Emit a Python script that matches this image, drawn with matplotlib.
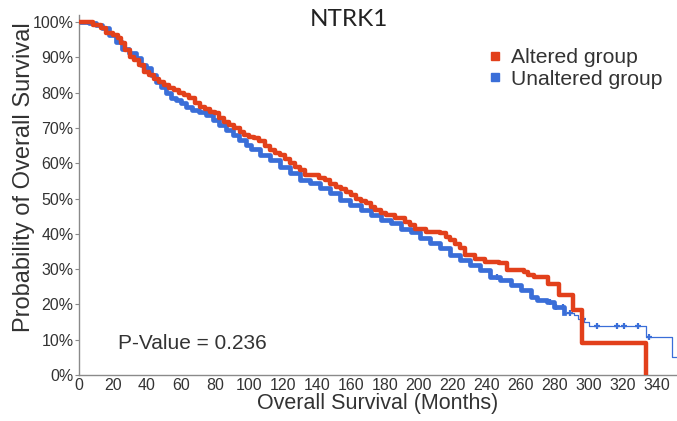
import numpy as np
import matplotlib
matplotlib.use("Agg")
import matplotlib.pyplot as plt
from matplotlib.lines import Line2D

# Kaplan-Meier breakpoints (months, survival %)
altered_t = [0, 8, 13, 16, 20, 23, 25, 27, 30, 32.5, 35.5, 38.5, 41, 44, 47, 50, 53,
             56, 59, 62, 65, 68, 71, 74, 77, 80, 82.5, 85.5, 88.5, 91.5, 94.5, 97,
             100, 103, 106, 109.5, 112.6, 115.5, 118.5, 121.5, 124.3, 127, 130.2,
             133.2, 141, 145, 148, 151, 154, 157, 160, 163, 166, 169, 172, 174.5,
             177.5, 180.5, 186, 192, 195, 198, 204, 212.7, 216, 218.6, 221.5, 224.5,
             227.4, 233.3, 239.2, 247, 252, 262, 264, 268, 276, 282.3, 290.6, 296.2,
             334]
altered_s = [100, 99.2, 98.2, 96.8, 96.4, 95.4, 94, 92, 90.2, 89.2, 87.8, 85.9, 85,
             84, 83.1, 82.2, 81.2, 80.7, 79.8, 79.3, 78.4, 77, 76, 75.5, 74.6, 74.1,
             72.7, 71.8, 70.8, 69.9, 68.9, 68, 67.5, 67.1, 66.3, 65, 63.7, 63, 62.3,
             61.2, 60, 59, 58.1, 56.7, 55.9, 55.2, 54.2, 53.3, 52.6, 51.9, 51, 50,
             49.3, 48.6, 47.6, 46.7, 46, 45.3, 44.4, 43.4, 42.5, 41.5, 40.6, 40.1,
             39.2, 38.2, 37, 35.9, 34, 33, 32.1, 31.6, 29.7, 29.3, 28.3, 27.8, 25.8,
             22.7, 18.4, 9.0, 0]

unaltered_t = [0, 6, 10, 13.7, 17.7, 21.6, 25.5, 29.5, 33.4, 36.3, 39.3, 42.2, 45.2,
               48.1, 51, 54, 57, 60, 62.8, 66.8, 70.7, 74.6, 78.6, 82.5, 86.4, 90.4,
               94.3, 98.2, 101.5, 106.7, 112.6, 118.5, 124.3, 130.2, 136, 142, 148,
               153.9, 159.8, 165.7, 171.6, 177.5, 183.4, 189.3, 195.2, 201, 206.9,
               212.7, 218.6, 224.5, 230.4, 236.3, 242.2, 248.1, 254, 259.9, 265.8,
               269.7, 275.6, 279.5, 285.4, 291.3, 294, 297.2, 300, 334, 349, 352]
unaltered_s = [100, 99.6, 99.2, 98.2, 96.3, 94.4, 92.5, 91.1, 89.7, 87.8, 86.9, 85,
               83.1, 81.7, 79.8, 78.4, 77.9, 77, 76, 75.1, 74.6, 73.7, 72.2, 70.8,
               69.4, 68, 66.6, 65.2, 63.9, 62.3, 60.9, 59, 57.1, 55.2, 54.3, 52.9,
               51.5, 49.6, 48.2, 46.7, 45.3, 43.9, 43, 41.5, 40.6, 38.7, 37.3, 35.9,
               34, 32.6, 31.2, 29.7, 27.8, 26.9, 25.5, 24.1, 22.2, 21.2, 20.8, 19.3,
               17.5, 17, 16, 15.1, 13.9, 10.7, 5.2, 5.2]

# Sparse censoring times on the unaltered tail
unaltered_censor = [246, 277, 281, 285, 289, 296.5, 305, 316.5, 321, 329, 335.5]

x_ticks = list(range(0, 341, 20))
y_ticks = list(range(0, 101, 10))

title = "NTRK1"
p_value_text = "P-Value = 0.236"
legend_labels = ["Altered group", "Unaltered group"]

RED = "#E2401B"
BLUE = "#3A6ED8"

plt.rcParams["font.family"] = ["Liberation Sans", "DejaVu Sans"]

fig = plt.figure(figsize=(6.77, 4.21), dpi=100)
ax = fig.add_axes([79 / 677, 46 / 421, 1 - 79 / 677, (375 - 15) / 421])

ut = np.array(unaltered_t)
us = np.array(unaltered_s)

# blue: thin line for the whole curve, thick where censor marks pile up
ax.step(ut, us, where="post", color=BLUE, lw=0.9, zorder=2)
dense = ut <= 286
ax.step(ut[dense], us[dense], where="post", color=BLUE, lw=3.4, zorder=2)
idx = np.searchsorted(ut, unaltered_censor, side="right") - 1
ax.plot(unaltered_censor, us[idx], ls="none", marker="+", ms=5, mew=1.6,
        color=BLUE, zorder=3)

# red: altered group
ax.step(altered_t, altered_s, where="post", color=RED, lw=3.2, zorder=4)

ax.set_xlim(0, 352)
ax.set_ylim(0, 102)
ax.set_xticks(x_ticks)
ax.set_yticks(y_ticks)
ax.set_yticklabels([f"{v}%" for v in y_ticks])

for s in ("top", "right"):
    ax.spines[s].set_visible(False)
for s in ("left", "bottom"):
    ax.spines[s].set_color("#8a8a8a")
    ax.spines[s].set_linewidth(1.0)

ax.tick_params(axis="y", length=3, width=0.8, color="#8a8a8a", pad=1,
               labelsize=11.5, labelcolor="#333333")
ax.tick_params(axis="x", length=0, pad=2, labelsize=11.5, labelcolor="#333333")

ax.set_ylabel("Probability of Overall Survival", fontsize=17, color="#333333",
              labelpad=-2)
ax.yaxis.label.set_y(0.55)
ax.set_xlabel("Overall Survival (Months)", fontsize=15.5, color="#333333",
              labelpad=0)

fig.text(349 / 677, 1 - 20 / 421, title, ha="center", va="center",
         fontsize=17.5, family=["Lato", "DejaVu Sans"], color="#222222")

ax.text(0.066, 0.088, p_value_text, transform=ax.transAxes, ha="left",
        va="center", fontsize=15, color="#333333")

handles = [Line2D([], [], ls="none", marker="s", ms=6, color=RED),
           Line2D([], [], ls="none", marker="s", ms=6, color=BLUE)]
fig.legend(handles, legend_labels, loc="upper left",
           bbox_to_anchor=(489 / 677, 1 - 48 / 421), frameon=False,
           fontsize=15.2, handlelength=0.6, handletextpad=0.45, labelspacing=0.12,
           borderaxespad=0, borderpad=0, labelcolor="#333333")

fig.savefig("out.png", dpi=100)
